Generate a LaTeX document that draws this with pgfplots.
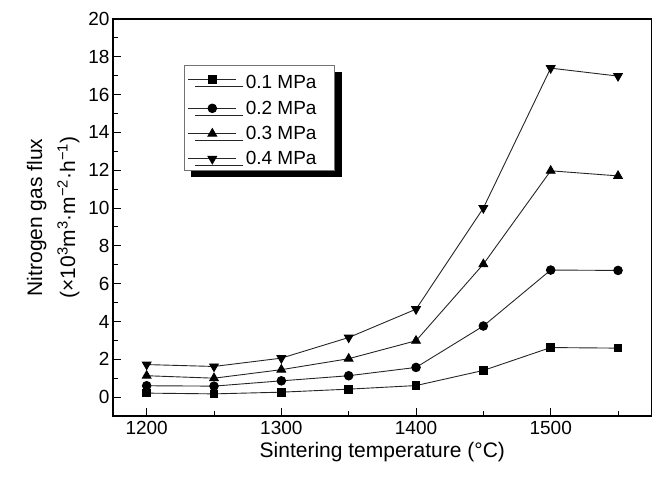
\documentclass[border=0pt]{standalone}
\usepackage{fontspec}
\setmainfont{Liberation Sans}
\usepackage{pgfplots}
\pgfplotsset{compat=1.18}
\usetikzlibrary{shadows}
\begin{document}
\begin{tikzpicture}
\begin{axis}[
  scale only axis,
  width=538.7pt, height=397pt,
  xmin=1175, xmax=1575, ymin=-1, ymax=20,
  xtick={1200,1300,1400,1500},
  minor xtick={1250,1350,1450,1550},
  ytick={0,2,...,20},
  minor ytick={1,3,...,19},
  xtick pos=bottom, ytick pos=left,
  tick align=inside,
  major tick length=8pt, minor tick length=5pt,
  every tick/.style={black, line width=0.9pt},
  axis line style={black, line width=1.3pt},
  /pgf/number format/assume math mode=true,
  /pgf/number format/1000 sep={},
  tick label style={font=\fontsize{19}{22}\selectfont},
  xticklabel style={yshift=-2pt},
  yticklabel style={xshift=0pt},
  xlabel={Sintering temperature (°C)},
  ylabel={Nitrogen gas flux\\(×10\textsuperscript{3}m\textsuperscript{3}·m\textsuperscript{−2}·h\textsuperscript{−1})},
  label style={font=\fontsize{21}{33}\selectfont},
  ylabel style={align=center, yshift=2pt},
  legend style={at={(0.131,0.885)}, anchor=north west,
    draw=black!55, line width=0.6pt, fill=white,
    font=\fontsize{19}{22}\selectfont,
    row sep=6.5pt, inner xsep=4pt, inner ysep=2pt,
    /tikz/every odd column/.append style={column sep=7pt},
    drop shadow={shadow xshift=7pt, shadow yshift=-7pt, fill=black, opacity=1}},
  legend cell align=left,
  legend image code/.code={
    \draw[mark repeat=2,mark phase=2] plot coordinates {(0pt,0pt) (24pt,0pt) (48pt,0pt)};
  },
  every axis plot/.append style={black!85, line width=0.9pt},
]
\addplot[mark=square*, mark size=3.8pt, mark options={fill=black, draw=black, solid}] coordinates {
(1200,0.21) (1250,0.17) (1300,0.26) (1350,0.42) (1400,0.61) (1450,1.41) (1500,2.62) (1550,2.59)};
\addlegendentry{\rule{0pt}{20pt}0.1 MPa\rule{12pt}{0pt}}
\addplot[mark=*, mark size=4.3pt, mark options={fill=black, draw=black, solid}] coordinates {
(1200,0.60) (1250,0.58) (1300,0.86) (1350,1.13) (1400,1.57) (1450,3.76) (1500,6.72) (1550,6.70)};
\addlegendentry{0.2 MPa}
\addplot[mark=triangle*, mark size=5pt, mark options={fill=black, draw=black, solid}] coordinates {
(1200,1.13) (1250,1.00) (1300,1.45) (1350,2.03) (1400,2.98) (1450,7.03) (1500,11.97) (1550,11.70)};
\addlegendentry{0.3 MPa}
\addplot[mark=triangle*, mark size=5pt, mark options={rotate=180, fill=black, draw=black, solid}] coordinates {
(1200,1.72) (1250,1.62) (1300,2.06) (1350,3.15) (1400,4.65) (1450,10.0) (1500,17.4) (1550,16.98)};
\addlegendentry{0.4 MPa}
\end{axis}
\path (current axis.south west) ++(-113pt,-62pt) coordinate (bbA);
\path (current axis.north east) ++(4.3pt,19pt) coordinate (bbB);
\path (bbA) rectangle (bbB);
\end{tikzpicture}
\end{document}
